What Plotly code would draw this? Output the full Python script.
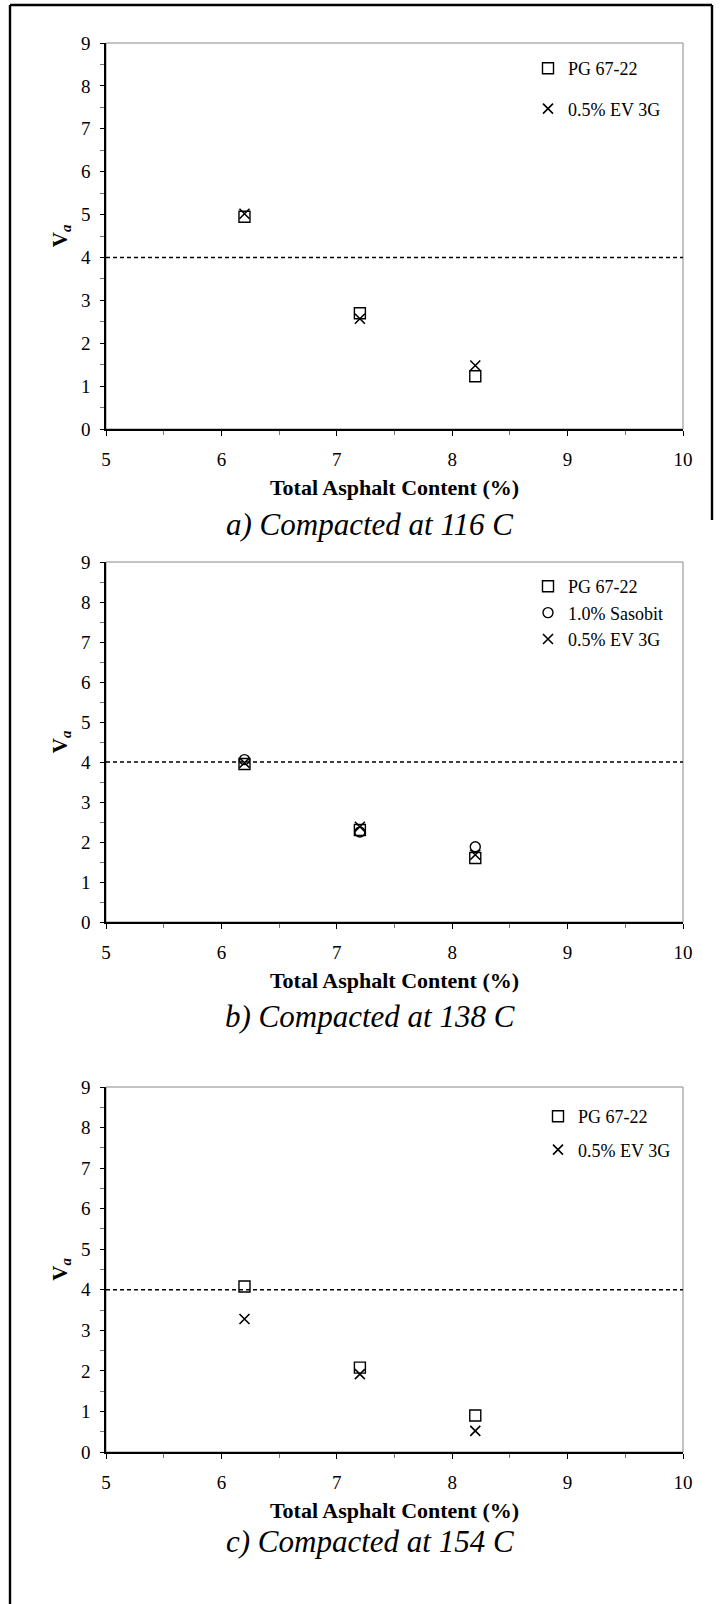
import plotly.graph_objects as go

W, H = 720, 1604

# ---------------- data ----------------
asphalt_content = [6.2, 7.2, 8.2]

# a) compacted at 116 C
a_pg = [4.95, 2.70, 1.23]
a_ev = [5.02, 2.57, 1.48]
# b) compacted at 138 C
b_pg = [3.95, 2.30, 1.60]
b_sas = [4.06, 2.25, 1.88]
b_ev = [3.98, 2.38, 1.68]
# c) compacted at 154 C
c_pg = [4.08, 2.08, 0.90]
c_ev = [3.28, 1.92, 0.52]

x_ticks = [5, 6, 7, 8, 9, 10]
y_ticks = [0, 1, 2, 3, 4, 5, 6, 7, 8, 9]
threshold = 4

name_pg = "PG 67-22"
name_sas = "1.0% Sasobit"
name_ev = "0.5% EV 3G"

captions = ["a) Compacted at 116 C", "b) Compacted at 138 C", "c) Compacted at 154 C"]
x_title = "Total Asphalt Content (%)"
y_title = "<b>V<sub><i>a</i></sub></b>"

FONT = "Liberation Serif"

# ---------------- layout geometry (pixels) ----------------
px_left, px_right = 106, 683
panels_px = [(43, 429), (562, 922), (1087, 1452)]
caption_y_px = [524, 1017, 1541]
legend_px = [(528, 50, 14), (528, 568, 0), (538, 1098, 7)]  # left, top, group gap

def fy(p):
    return 1 - p / H

fig = go.Figure()

marker_line = dict(color="black", width=1.4)
sq = dict(symbol="square-open", size=11, color="black", line=marker_line)
ci = dict(symbol="circle-open", size=10, color="black", line=marker_line)
xx = dict(symbol="x-thin-open", size=10, color="black", line=dict(color="black", width=1.6))

series = [
    [(name_pg, a_pg, sq), (name_ev, a_ev, xx)],
    [(name_pg, b_pg, sq), (name_sas, b_sas, ci), (name_ev, b_ev, xx)],
    [(name_pg, c_pg, sq), (name_ev, c_ev, xx)],
]

for i, group in enumerate(series):
    k = i + 1
    xa = "x" if k == 1 else f"x{k}"
    ya = "y" if k == 1 else f"y{k}"
    leg = "legend" if k == 1 else f"legend{k}"
    for j, (nm, vals, mk) in enumerate(group):
        fig.add_trace(go.Scatter(
            x=asphalt_content, y=vals, mode="markers", name=nm,
            marker=mk, xaxis=xa, yaxis=ya, legend=leg,
            legendgroup=f"p{k}s{j}", showlegend=True,
        ))

layout = dict(
    width=W, height=H,
    margin=dict(l=0, r=0, t=0, b=0, autoexpand=False),
    paper_bgcolor="white", plot_bgcolor="white",
    font=dict(family=FONT, color="black", size=18),
    showlegend=True,
)

shapes = []
annotations = []
for i, (top, bot) in enumerate(panels_px):
    k = i + 1
    sfx = "" if k == 1 else str(k)
    dom_y = [fy(bot), fy(top)]
    dom_x = [px_left / W, px_right / W]
    layout[f"xaxis{sfx}"] = dict(
        domain=dom_x, anchor=f"y{sfx}", range=[5, 10], automargin=False,
        tickvals=x_ticks, ticktext=[str(v) for v in x_ticks],
        ticks="outside", ticklen=5, tickwidth=1.2, tickcolor="black",
        minor=dict(ticks="outside", ticklen=4, dtick=0.5, tickcolor="#777", tickwidth=1.2),
        showline=True, linecolor="black", linewidth=1.6,
        showgrid=False, zeroline=False,
        tickfont=dict(family=FONT, size=19, color="black"),
        ticklabelstandoff=7,
        title=dict(text=f"<b>{x_title}</b>", font=dict(family=FONT, size=22, color="black"), standoff=11),
    )
    layout[f"yaxis{sfx}"] = dict(
        domain=dom_y, anchor=f"x{sfx}", range=[0, 9], automargin=False,
        tickvals=y_ticks, ticktext=[str(v) for v in y_ticks],
        ticks="outside", ticklen=4, tickwidth=1.2, tickcolor="black",
        minor=dict(ticks="outside", ticklen=4, dtick=0.5, tickcolor="#777", tickwidth=1.2),
        showline=True, linecolor="black", linewidth=1.6,
        showgrid=False, zeroline=False,
        tickfont=dict(family=FONT, size=19, color="black"),
        ticklabelstandoff=6,
        title=dict(text=y_title, font=dict(family=FONT, size=21, color="black"), standoff=8),
    )
    # overlay axes giving the inner half of the crossing ticks
    ox, oy = 3 + k, 3 + k
    layout[f"xaxis{ox}"] = dict(
        overlaying=f"x{sfx}", anchor=f"y{sfx}", range=[5, 10], side="bottom", automargin=False,
        tickvals=x_ticks, ticks="inside", ticklen=5, tickwidth=1.2, tickcolor="black",
        minor=dict(ticks="inside", ticklen=4, dtick=0.5, tickcolor="#777", tickwidth=1.2),
        showticklabels=False, showline=False, showgrid=False, zeroline=False,
    )
    layout[f"yaxis{oy}"] = dict(
        overlaying=f"y{sfx}", anchor=f"x{sfx}", range=[0, 9], side="left", automargin=False,
        tickvals=y_ticks, ticks="inside", ticklen=4, tickwidth=1.2, tickcolor="black",
        minor=dict(ticks="inside", ticklen=4, dtick=0.5, tickcolor="#777", tickwidth=1.2),
        showticklabels=False, showline=False, showgrid=False, zeroline=False,
    )
    # gray plot frame (top/right)
    shapes.append(dict(type="rect", xref=f"x{sfx} domain", yref=f"y{sfx} domain",
                       x0=0, x1=1, y0=0, y1=1, line=dict(color="#888", width=1),
                       layer="below"))
    # threshold dashed line
    shapes.append(dict(type="line", xref=f"x{sfx} domain", yref=f"y{sfx}",
                       x0=0, x1=1, y0=threshold, y1=threshold,
                       line=dict(color="black", width=1.4, dash="4px,3px")))
    # caption
    annotations.append(dict(text=f"<i>{captions[i]}</i>", xref="paper", yref="paper",
                            x=370 / W, y=fy(caption_y_px[i]), xanchor="center",
                            yanchor="middle", showarrow=False,
                            font=dict(family=FONT, size=31, color="black")))
    # legend
    lx, lt, gap = legend_px[i]
    lname = "legend" if k == 1 else f"legend{k}"
    layout[lname] = dict(x=lx / W, y=fy(lt), xanchor="left", yanchor="top",
                         bgcolor="rgba(0,0,0,0)", borderwidth=0,
                         font=dict(family=FONT, size=18, color="black"),
                         tracegroupgap=gap, itemwidth=30)

# outer frame of the figure
shapes.append(dict(type="line", xref="paper", yref="paper", x0=10 / W, x1=10 / W,
                   y0=0, y1=fy(5), line=dict(color="black", width=2.4)))
shapes.append(dict(type="line", xref="paper", yref="paper", x0=10 / W, x1=712 / W,
                   y0=fy(5), y1=fy(5), line=dict(color="black", width=2.4)))
shapes.append(dict(type="line", xref="paper", yref="paper", x0=712 / W, x1=712 / W,
                   y0=fy(5), y1=fy(520), line=dict(color="black", width=2.4)))

layout["shapes"] = shapes
layout["annotations"] = annotations
fig.update_layout(**layout)

fig.write_html("out.html")
